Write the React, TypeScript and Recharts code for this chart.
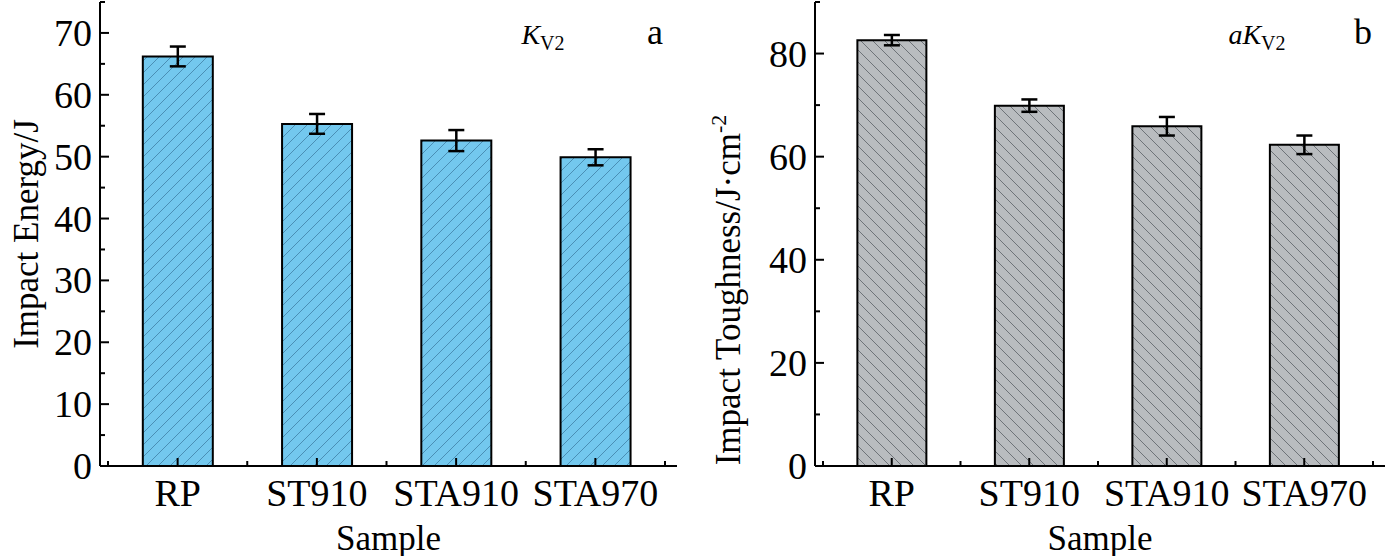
import { Bar, BarChart, ErrorBar, XAxis, YAxis } from "recharts";

const samples = ["RP", "ST910", "STA910", "STA970"];
const energy = [66.2, 55.3, 52.6, 49.9];
const energyErr = [1.6, 1.6, 1.7, 1.3];
const toughness = [82.6, 69.9, 65.9, 62.3];
const toughnessErr = [1.0, 1.2, 1.8, 1.8];
const energyTicks = [0, 5, 10, 15, 20, 25, 30, 35, 40, 45, 50, 55, 60, 65, 70, 75];
const toughTicks = [0, 10, 20, 30, 40, 50, 60, 70, 80, 90];

const FONT = "'Liberation Serif', 'Times New Roman', serif";

const energyData = samples.map((s, i) => ({ name: s, v: energy[i], e: energyErr[i] }));
const toughData = samples.map((s, i) => ({ name: s, v: toughness[i], e: toughnessErr[i] }));

function yTick(axisX: number, major: (v: number) => boolean) {
  return (p: any) => {
    const v = p.payload.value;
    const isMajor = major(v);
    return (
      <g>
        <line x1={axisX} x2={axisX + (isMajor ? 9 : 5)} y1={p.y} y2={p.y} stroke="#000" strokeWidth={2} />
        {isMajor && (
          <text x={axisX - 8} y={p.y} dy={13} textAnchor="end" fontSize={38} fontFamily={FONT} fill="#000">
            {v}
          </text>
        )}
      </g>
    );
  };
}

function xTick(axisY: number, count: number) {
  return (p: any) => {
    const off = p.payload.offset ?? 0;
    const last = p.index === count - 1;
    return (
      <g>
        <line x1={p.x} x2={p.x} y1={axisY} y2={axisY - 8} stroke="#000" strokeWidth={2} />
        <line x1={p.x - off} x2={p.x - off} y1={axisY} y2={axisY - 5} stroke="#000" strokeWidth={2} />
        {last && <line x1={p.x + off} x2={p.x + off} y1={axisY} y2={axisY - 5} stroke="#000" strokeWidth={2} />}
        <text x={p.x} y={axisY + 40} textAnchor="middle" fontSize={38} fontFamily={FONT} fill="#000">
          {p.payload.value}
        </text>
      </g>
    );
  };
}

function Panel(props: {
  data: any[];
  ticks: number[];
  domainMax: number;
  yWidth: number;
  width: number;
  rightMargin: number;
  fill: string;
  patternId: string;
  hatch: string;
  hatchDir: 1 | -1;
  major: (v: number) => boolean;
  yLabel: any;
  tag: string;
  sub: any;
  subX: number;
}) {
  const axisY = 466;
  return (
    <BarChart
      width={props.width}
      height={556}
      data={props.data}
      margin={{ top: 2, right: props.rightMargin, bottom: 0, left: 0 }}
      barCategoryGap="25%"
      style={{ fontFamily: FONT }}
    >
      <defs>
        <pattern id={props.patternId} width={12} height={12} patternUnits="userSpaceOnUse">
          <rect width={12} height={12} fill={props.fill} />
          {props.hatchDir === 1 ? (
            <path d="M-3,3 L3,-3 M0,12 L12,0 M9,15 L15,9" stroke={props.hatch} strokeWidth={1} />
          ) : (
            <path d="M-3,9 L3,15 M0,0 L12,12 M9,-3 L15,3" stroke={props.hatch} strokeWidth={1} />
          )}
        </pattern>
      </defs>
      <XAxis
        dataKey="name"
        height={90}
        stroke="#000"
        strokeWidth={2}
        tickLine={false}
        interval={0}
        padding={{ left: 8, right: 12 }}
        tick={xTick(axisY, props.data.length)}
        label={{ value: "Sample", position: "insideBottom", offset: 6, fontSize: 35, fill: "#000", fontFamily: FONT }}
      />
      <XAxis xAxisId="top" dataKey="name" orientation="top" height={0} stroke="#000" strokeWidth={2} tick={false} tickLine={false} />
      <YAxis
        width={props.yWidth}
        domain={[0, props.domainMax]}
        ticks={props.ticks}
        interval={0}
        stroke="#000"
        strokeWidth={2}
        tickLine={false}
        tick={yTick(props.yWidth, props.major)}
        label={props.yLabel}
      />
      <YAxis yAxisId="right" orientation="right" width={0} domain={[0, props.domainMax]} stroke="#000" strokeWidth={2} tick={false} tickLine={false} />
      <Bar dataKey="v" fill={`url(#${props.patternId})`} stroke="#000" strokeWidth={2} isAnimationActive={false}>
        <ErrorBar dataKey="e" width={8} stroke="#000" strokeWidth={2.5} />
      </Bar>
      <text x={props.width - props.rightMargin - 22} y={44} textAnchor="middle" fontSize={36} fontFamily={FONT} fill="#000">
        {props.tag}
      </text>
      <text x={props.subX} y={44} textAnchor="middle" fontSize={28} fontFamily={FONT} fill="#000">
        {props.sub}
      </text>
    </BarChart>
  );
}

const rotLabel = (cx: number, cy: number, content: any) => () =>
  (
    <text x={cx} y={cy} transform={`rotate(-90 ${cx} ${cy})`} textAnchor="middle" fontSize={35} fontFamily={FONT} fill="#000">
      {content}
    </text>
  );

export default function App() {
  return (
    <div style={{ position: "absolute", top: 0, left: 0, width: 1392, height: 556, background: "#fff" }}>
      <div style={{ position: "absolute", left: 0, top: 0 }}>
        <Panel
          data={energyData}
          ticks={energyTicks}
          domainMax={75}
          yWidth={100}
          width={680}
          rightMargin={3}
          fill="#73C8EE"
          patternId="hatchA"
          hatch="#4A8FB5"
          hatchDir={1}
          major={(v) => v % 10 === 0}
          yLabel={{ content: rotLabel(38, 234, "Impact Energy/J") }}
          tag="a"
          subX={543}
          sub={
            <>
              <tspan fontStyle="italic">K</tspan>
              <tspan fontSize={20} dy={6}>V2</tspan>
            </>
          }
        />
      </div>
      <div style={{ position: "absolute", left: 700, top: 0 }}>
        <Panel
          data={toughData}
          ticks={toughTicks}
          domainMax={90}
          yWidth={115}
          width={686}
          rightMargin={1}
          fill="#B9BCBF"
          patternId="hatchB"
          hatch="#6E7378"
          hatchDir={-1}
          major={(v) => v % 20 === 0}
          yLabel={{
            content: rotLabel(
              40,
              290,
              <>
                Impact Toughness/J·cm<tspan fontSize={22} dy={-14}>-2</tspan>
              </>
            ),
          }}
          tag="b"
          subX={557}
          sub={
            <>
              <tspan fontStyle="italic">aK</tspan>
              <tspan fontSize={20} dy={6}>V2</tspan>
            </>
          }
        />
      </div>
    </div>
  );
}
